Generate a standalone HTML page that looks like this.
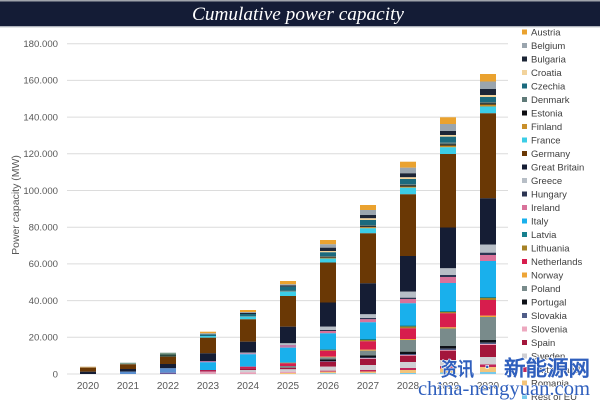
<!DOCTYPE html>
<html><head><meta charset="utf-8"><style>
html,body{margin:0;padding:0;background:#fff;}
svg{display:block;}
text{font-family:"Liberation Sans",sans-serif;}
</style></head><body>
<svg width="600" height="405" viewBox="0 0 600 405" xmlns="http://www.w3.org/2000/svg">
<rect x="0" y="0" width="600" height="405" fill="#fff"/>
<rect x="0" y="0" width="600" height="1.5" fill="#a0a4ac"/>
<rect x="0" y="1.5" width="600" height="24.8" fill="#141c36"/>
<rect x="0" y="26.3" width="600" height="1.2" fill="#c9ccd2"/>
<text x="298" y="20" text-anchor="middle" fill="#fff" style="font-family:'Liberation Serif',serif;font-style:italic;font-size:19px" textLength="212" lengthAdjust="spacingAndGlyphs">Cumulative power capacity</text>

<g stroke="#dcdcdc" stroke-width="1">
<line x1="67" y1="43.7" x2="508" y2="43.7"/>
<line x1="67" y1="80.4" x2="508" y2="80.4"/>
<line x1="67" y1="117.1" x2="508" y2="117.1"/>
<line x1="67" y1="153.8" x2="508" y2="153.8"/>
<line x1="67" y1="190.5" x2="508" y2="190.5"/>
<line x1="67" y1="227.2" x2="508" y2="227.2"/>
<line x1="67" y1="263.9" x2="508" y2="263.9"/>
<line x1="67" y1="300.6" x2="508" y2="300.6"/>
<line x1="67" y1="337.3" x2="508" y2="337.3"/>
<line x1="67" y1="374" x2="508" y2="374"/>
</g>
<g fill="#595959" style="font-size:9.6px" text-anchor="end">
<text x="58" y="47">180.000</text>
<text x="58" y="83.7">160.000</text>
<text x="58" y="120.4">140.000</text>
<text x="58" y="157.1">120.000</text>
<text x="58" y="193.8">100.000</text>
<text x="58" y="230.5">80.000</text>
<text x="58" y="267.2">60.000</text>
<text x="58" y="303.9">40.000</text>
<text x="58" y="340.6">20.000</text>
<text x="58" y="377.3">0</text>
</g>
<text transform="translate(19,205) rotate(-90)" text-anchor="middle" fill="#595959" style="font-size:10.5px">Power capacity (MW)</text>
<g fill="#595959" style="font-size:10px" text-anchor="middle">
<text x="88" y="389">2020</text>
<text x="128" y="389">2021</text>
<text x="168" y="389">2022</text>
<text x="208" y="389">2023</text>
<text x="248" y="389">2024</text>
<text x="288" y="389">2025</text>
<text x="328" y="389">2026</text>
<text x="368" y="389">2027</text>
<text x="408" y="389">2028</text>
<text x="448" y="389">2029</text>
<text x="488" y="389">2030</text>
</g>

<!-- 2020 -->
<g>
<rect x="80" y="366.7" width="16" height="1" fill="#c8a060"/>
<rect x="80" y="367.7" width="16" height="4" fill="#6a3805"/>
<rect x="80" y="371.7" width="16" height="2.3" fill="#151d34"/>
</g>
<!-- 2021 -->
<g>
<rect x="120" y="362.7" width="16" height="1.6" fill="#7fa090"/>
<rect x="120" y="364.3" width="16" height="4.7" fill="#6a3805"/>
<rect x="120" y="369" width="16" height="2.7" fill="#151d34"/>
<rect x="120" y="371.7" width="16" height="2.3" fill="#5b8fd0"/>
</g>
<!-- 2022 -->
<g>
<rect x="160" y="352.7" width="16" height="1.8" fill="#7a9a88"/>
<rect x="160" y="354.5" width="16" height="2.2" fill="#2a4a40"/>
<rect x="160" y="356.7" width="16" height="7.3" fill="#6a3805"/>
<rect x="160" y="364" width="16" height="4.3" fill="#151d34"/>
<rect x="160" y="368.3" width="16" height="4.4" fill="#5b8fd0"/>
<rect x="160" y="372.7" width="16" height="1.3" fill="#6a5a9a"/>
</g>
<!-- 2023 -->
<g>
<rect x="200" y="331.7" width="16" height="1.6" fill="#eaa22f"/>
<rect x="200" y="333.3" width="16" height="1" fill="#9aa5ae"/>
<rect x="200" y="334.3" width="16" height="1.7" fill="#1b6a7e"/>
<rect x="200" y="336" width="16" height="1.7" fill="#3ccde6"/>
<rect x="200" y="337.7" width="16" height="15.6" fill="#6a3805"/>
<rect x="200" y="353.3" width="16" height="7.7" fill="#151d34"/>
<rect x="200" y="361" width="16" height="1.3" fill="#b07aa8"/>
<rect x="200" y="362.3" width="16" height="7.7" fill="#19b0ec"/>
<rect x="200" y="370" width="16" height="1.7" fill="#b02050"/>
<rect x="200" y="371.7" width="16" height="2.3" fill="#e0a0b8"/>
</g>
<!-- 2024 -->
<g>
<rect x="240" y="310" width="16" height="2" fill="#eaa22f"/>
<rect x="240" y="312" width="16" height="1" fill="#9aa5ae"/>
<rect x="240" y="313" width="16" height="1" fill="#1c2536"/>
<rect x="240" y="314" width="16" height="2" fill="#1b6a7e"/>
<rect x="240" y="316" width="16" height="0.7" fill="#5f7a78"/>
<rect x="240" y="316.7" width="16" height="2.6" fill="#3ccde6"/>
<rect x="240" y="319.3" width="16" height="22.4" fill="#6a3805"/>
<rect x="240" y="341.7" width="16" height="10.8" fill="#151d34"/>
<rect x="240" y="352.5" width="16" height="0.8" fill="#b7bec6"/>
<rect x="240" y="353.3" width="16" height="1" fill="#b07aa8"/>
<rect x="240" y="354.3" width="16" height="12.4" fill="#19b0ec"/>
<rect x="240" y="366.7" width="16" height="1.6" fill="#d71d4d"/>
<rect x="240" y="368.3" width="16" height="1.7" fill="#a3163b"/>
<rect x="240" y="370" width="16" height="2.3" fill="#cfcfd3"/>
<rect x="240" y="372.3" width="16" height="1.7" fill="#e8a0b8"/>
</g>
<!-- 2025 -->
<g>
<rect x="280" y="281" width="16" height="3.3" fill="#eaa22f"/>
<rect x="280" y="284.3" width="16" height="1.2" fill="#9aa5ae"/>
<rect x="280" y="285.5" width="16" height="1.2" fill="#1c2536"/>
<rect x="280" y="286.7" width="16" height="3.8" fill="#1b6a7e"/>
<rect x="280" y="290.5" width="16" height="1.2" fill="#5f7a78"/>
<rect x="280" y="291.7" width="16" height="4.3" fill="#3ccde6"/>
<rect x="280" y="296" width="16" height="30.7" fill="#6a3805"/>
<rect x="280" y="326.7" width="16" height="16.6" fill="#151d34"/>
<rect x="280" y="343.3" width="16" height="1.7" fill="#b7bec6"/>
<rect x="280" y="345" width="16" height="2.7" fill="#c07aa8"/>
<rect x="280" y="347.7" width="16" height="15" fill="#19b0ec"/>
<rect x="280" y="362.7" width="16" height="0.6" fill="#a68226"/>
<rect x="280" y="363.3" width="16" height="2.7" fill="#d71d4d"/>
<rect x="280" y="366" width="16" height="1.7" fill="#798b8b"/>
<rect x="280" y="367.7" width="16" height="1.6" fill="#a3163b"/>
<rect x="280" y="369.3" width="16" height="2.4" fill="#cfcfd3"/>
<rect x="280" y="371.7" width="16" height="1.3" fill="#e8a0b8"/>
<rect x="280" y="373" width="16" height="1" fill="#f3c47a"/>
</g>
<!-- 2026 -->
<g>
<rect x="320" y="240" width="16" height="4.3" fill="#eaa22f"/>
<rect x="320" y="244.3" width="16" height="3.4" fill="#9aa5ae"/>
<rect x="320" y="247.7" width="16" height="3.3" fill="#1c2536"/>
<rect x="320" y="251" width="16" height="1.3" fill="#f2d39c"/>
<rect x="320" y="252.3" width="16" height="3.7" fill="#1b6a7e"/>
<rect x="320" y="256" width="16" height="1" fill="#5f7a78"/>
<rect x="320" y="257" width="16" height="0.7" fill="#0d0d12"/>
<rect x="320" y="257.7" width="16" height="0.8" fill="#c98f2a"/>
<rect x="320" y="258.5" width="16" height="4" fill="#3ccde6"/>
<rect x="320" y="262.5" width="16" height="40" fill="#6a3805"/>
<rect x="320" y="302.5" width="16" height="24.2" fill="#151d34"/>
<rect x="320" y="326.7" width="16" height="3.3" fill="#b7bec6"/>
<rect x="320" y="330" width="16" height="1" fill="#2c3552"/>
<rect x="320" y="331" width="16" height="2.3" fill="#d9729a"/>
<rect x="320" y="333.3" width="16" height="16" fill="#19b0ec"/>
<rect x="320" y="349.3" width="16" height="0.7" fill="#17808e"/>
<rect x="320" y="350" width="16" height="0.8" fill="#a68226"/>
<rect x="320" y="350.8" width="16" height="5.9" fill="#d71d4d"/>
<rect x="320" y="356.7" width="16" height="0.6" fill="#eea537"/>
<rect x="320" y="357.3" width="16" height="2.2" fill="#798b8b"/>
<rect x="320" y="359.5" width="16" height="1.5" fill="#0e1117"/>
<rect x="320" y="361" width="16" height="0.7" fill="#505d88"/>
<rect x="320" y="361.7" width="16" height="5" fill="#a3163b"/>
<rect x="320" y="366.7" width="16" height="4" fill="#cfcfd3"/>
<rect x="320" y="370.7" width="16" height="1" fill="#c2255a"/>
<rect x="320" y="371.7" width="16" height="1.6" fill="#f3c47a"/>
<rect x="320" y="373.3" width="16" height="0.7" fill="#77c9ea"/>
</g>
<!-- 2027 -->
<g>
<rect x="360" y="205" width="16" height="5" fill="#eaa22f"/>
<rect x="360" y="210" width="16" height="5" fill="#9aa5ae"/>
<rect x="360" y="215" width="16" height="3.3" fill="#1c2536"/>
<rect x="360" y="218.3" width="16" height="1.7" fill="#f2d39c"/>
<rect x="360" y="220" width="16" height="5" fill="#1b6a7e"/>
<rect x="360" y="225" width="16" height="1.2" fill="#5f7a78"/>
<rect x="360" y="226.2" width="16" height="1" fill="#0d0d12"/>
<rect x="360" y="227.2" width="16" height="1.1" fill="#c98f2a"/>
<rect x="360" y="228.3" width="16" height="5" fill="#3ccde6"/>
<rect x="360" y="233.3" width="16" height="50" fill="#6a3805"/>
<rect x="360" y="283.3" width="16" height="31" fill="#151d34"/>
<rect x="360" y="314.3" width="16" height="3.7" fill="#b7bec6"/>
<rect x="360" y="318" width="16" height="1.3" fill="#2c3552"/>
<rect x="360" y="319.3" width="16" height="3" fill="#d9729a"/>
<rect x="360" y="322.3" width="16" height="16.7" fill="#19b0ec"/>
<rect x="360" y="339" width="16" height="1" fill="#17808e"/>
<rect x="360" y="340" width="16" height="1.3" fill="#a68226"/>
<rect x="360" y="341.3" width="16" height="8.4" fill="#d71d4d"/>
<rect x="360" y="349.7" width="16" height="1" fill="#eea537"/>
<rect x="360" y="350.7" width="16" height="4.8" fill="#798b8b"/>
<rect x="360" y="355.5" width="16" height="2" fill="#0e1117"/>
<rect x="360" y="357.5" width="16" height="0.8" fill="#505d88"/>
<rect x="360" y="358.3" width="16" height="0.7" fill="#eda8bf"/>
<rect x="360" y="359" width="16" height="6" fill="#a3163b"/>
<rect x="360" y="365" width="16" height="5" fill="#cfcfd3"/>
<rect x="360" y="370" width="16" height="1.5" fill="#c2255a"/>
<rect x="360" y="371.5" width="16" height="1.8" fill="#f3c47a"/>
<rect x="360" y="373.3" width="16" height="0.7" fill="#77c9ea"/>
</g>
<!-- 2028 -->
<g>
<rect x="400" y="161.7" width="16" height="6" fill="#eaa22f"/>
<rect x="400" y="167.7" width="16" height="5.6" fill="#9aa5ae"/>
<rect x="400" y="173.3" width="16" height="4" fill="#1c2536"/>
<rect x="400" y="177.3" width="16" height="1.7" fill="#f2d39c"/>
<rect x="400" y="179" width="16" height="5.3" fill="#1b6a7e"/>
<rect x="400" y="184.3" width="16" height="1.2" fill="#5f7a78"/>
<rect x="400" y="185.5" width="16" height="1" fill="#0d0d12"/>
<rect x="400" y="186.5" width="16" height="1.2" fill="#c98f2a"/>
<rect x="400" y="187.7" width="16" height="6.6" fill="#3ccde6"/>
<rect x="400" y="194.3" width="16" height="61.7" fill="#6a3805"/>
<rect x="400" y="256" width="16" height="35.7" fill="#151d34"/>
<rect x="400" y="291.7" width="16" height="6" fill="#b7bec6"/>
<rect x="400" y="297.7" width="16" height="1.3" fill="#2c3552"/>
<rect x="400" y="299" width="16" height="4.3" fill="#d9729a"/>
<rect x="400" y="303.3" width="16" height="22.2" fill="#19b0ec"/>
<rect x="400" y="325.5" width="16" height="1" fill="#17808e"/>
<rect x="400" y="326.5" width="16" height="1.8" fill="#a68226"/>
<rect x="400" y="328.3" width="16" height="10.7" fill="#d71d4d"/>
<rect x="400" y="339" width="16" height="1" fill="#eea537"/>
<rect x="400" y="340" width="16" height="11.7" fill="#798b8b"/>
<rect x="400" y="351.7" width="16" height="2.3" fill="#0e1117"/>
<rect x="400" y="354" width="16" height="1" fill="#505d88"/>
<rect x="400" y="355" width="16" height="0.7" fill="#eda8bf"/>
<rect x="400" y="355.7" width="16" height="6.3" fill="#a3163b"/>
<rect x="400" y="362" width="16" height="6" fill="#cfcfd3"/>
<rect x="400" y="368" width="16" height="2" fill="#c2255a"/>
<rect x="400" y="370" width="16" height="3" fill="#f3c47a"/>
<rect x="400" y="373" width="16" height="1" fill="#77c9ea"/>
</g>
<!-- 2029 -->
<g>
<rect x="440" y="117.3" width="16" height="6.7" fill="#eaa22f"/>
<rect x="440" y="124" width="16" height="7" fill="#9aa5ae"/>
<rect x="440" y="131" width="16" height="4" fill="#1c2536"/>
<rect x="440" y="135" width="16" height="1.7" fill="#f2d39c"/>
<rect x="440" y="136.7" width="16" height="6" fill="#1b6a7e"/>
<rect x="440" y="142.7" width="16" height="1.8" fill="#5f7a78"/>
<rect x="440" y="144.5" width="16" height="1" fill="#0d0d12"/>
<rect x="440" y="145.5" width="16" height="1.8" fill="#c98f2a"/>
<rect x="440" y="147.3" width="16" height="6.7" fill="#3ccde6"/>
<rect x="440" y="154" width="16" height="73.5" fill="#6a3805"/>
<rect x="440" y="227.5" width="16" height="40.8" fill="#151d34"/>
<rect x="440" y="268.3" width="16" height="6.7" fill="#b7bec6"/>
<rect x="440" y="275" width="16" height="2" fill="#2c3552"/>
<rect x="440" y="277" width="16" height="6" fill="#d9729a"/>
<rect x="440" y="283" width="16" height="28" fill="#19b0ec"/>
<rect x="440" y="311" width="16" height="1" fill="#17808e"/>
<rect x="440" y="312" width="16" height="1.3" fill="#a68226"/>
<rect x="440" y="313.3" width="16" height="14" fill="#d71d4d"/>
<rect x="440" y="327.3" width="16" height="1.2" fill="#eea537"/>
<rect x="440" y="328.5" width="16" height="17.5" fill="#798b8b"/>
<rect x="440" y="346" width="16" height="2.7" fill="#0e1117"/>
<rect x="440" y="348.7" width="16" height="1.3" fill="#505d88"/>
<rect x="440" y="350" width="16" height="0.7" fill="#eda8bf"/>
<rect x="440" y="350.7" width="16" height="9.3" fill="#a3163b"/>
<rect x="440" y="360" width="16" height="6" fill="#cfcfd3"/>
<rect x="440" y="366" width="16" height="2.5" fill="#c2255a"/>
<rect x="440" y="368.5" width="16" height="4" fill="#f3c47a"/>
<rect x="440" y="372.5" width="16" height="1.5" fill="#77c9ea"/>
</g>
<!-- 2030 -->
<g>
<rect x="480" y="74" width="16" height="7.5" fill="#eaa22f"/>
<rect x="480" y="81.5" width="16" height="7.5" fill="#9aa5ae"/>
<rect x="480" y="89" width="16" height="6" fill="#1c2536"/>
<rect x="480" y="95" width="16" height="2" fill="#f2d39c"/>
<rect x="480" y="97" width="16" height="5" fill="#1b6a7e"/>
<rect x="480" y="102" width="16" height="1.5" fill="#5f7a78"/>
<rect x="480" y="103.5" width="16" height="1" fill="#0d0d12"/>
<rect x="480" y="104.5" width="16" height="2" fill="#c98f2a"/>
<rect x="480" y="106.5" width="16" height="6.8" fill="#3ccde6"/>
<rect x="480" y="113.3" width="16" height="85" fill="#6a3805"/>
<rect x="480" y="198.3" width="16" height="46.2" fill="#151d34"/>
<rect x="480" y="244.5" width="16" height="8.2" fill="#b7bec6"/>
<rect x="480" y="252.7" width="16" height="2.3" fill="#2c3552"/>
<rect x="480" y="255" width="16" height="6" fill="#d9729a"/>
<rect x="480" y="261" width="16" height="36" fill="#19b0ec"/>
<rect x="480" y="297" width="16" height="1" fill="#17808e"/>
<rect x="480" y="298" width="16" height="2" fill="#a68226"/>
<rect x="480" y="300" width="16" height="15.7" fill="#d71d4d"/>
<rect x="480" y="315.7" width="16" height="1.3" fill="#eea537"/>
<rect x="480" y="317" width="16" height="23" fill="#798b8b"/>
<rect x="480" y="340" width="16" height="2.7" fill="#0e1117"/>
<rect x="480" y="342.7" width="16" height="1.3" fill="#505d88"/>
<rect x="480" y="344" width="16" height="1" fill="#eda8bf"/>
<rect x="480" y="345" width="16" height="12" fill="#a3163b"/>
<rect x="480" y="357" width="16" height="7.5" fill="#cfcfd3"/>
<rect x="480" y="364.5" width="16" height="2.5" fill="#c2255a"/>
<rect x="480" y="367" width="16" height="5" fill="#f3c47a"/>
<rect x="480" y="372" width="16" height="2" fill="#77c9ea"/>
</g>

<!-- Legend -->
<g style="font-size:9.5px" fill="#404040">
<rect x="522" y="29.5" width="5" height="5" fill="#eaa22f"/><text x="531" y="35.3">Austria</text>
<rect x="522" y="43" width="5" height="5" fill="#9aa5ae"/><text x="531" y="48.8">Belgium</text>
<rect x="522" y="56.5" width="5" height="5" fill="#1c2536"/><text x="531" y="62.3">Bulgaria</text>
<rect x="522" y="70" width="5" height="5" fill="#f2d39c"/><text x="531" y="75.8">Croatia</text>
<rect x="522" y="83.5" width="5" height="5" fill="#1b6a7e"/><text x="531" y="89.3">Czechia</text>
<rect x="522" y="97" width="5" height="5" fill="#5f7a78"/><text x="531" y="102.8">Denmark</text>
<rect x="522" y="110.5" width="5" height="5" fill="#0d0d12"/><text x="531" y="116.3">Estonia</text>
<rect x="522" y="124" width="5" height="5" fill="#c98f2a"/><text x="531" y="129.8">Finland</text>
<rect x="522" y="137.5" width="5" height="5" fill="#3ccde6"/><text x="531" y="143.3">France</text>
<rect x="522" y="151" width="5" height="5" fill="#6a3805"/><text x="531" y="156.8">Germany</text>
<rect x="522" y="164.5" width="5" height="5" fill="#151d34"/><text x="531" y="170.3">Great Britain</text>
<rect x="522" y="178" width="5" height="5" fill="#b7bec6"/><text x="531" y="183.8">Greece</text>
<rect x="522" y="191.5" width="5" height="5" fill="#2c3552"/><text x="531" y="197.3">Hungary</text>
<rect x="522" y="205" width="5" height="5" fill="#d9729a"/><text x="531" y="210.8">Ireland</text>
<rect x="522" y="218.5" width="5" height="5" fill="#19b0ec"/><text x="531" y="224.3">Italy</text>
<rect x="522" y="232" width="5" height="5" fill="#17808e"/><text x="531" y="237.8">Latvia</text>
<rect x="522" y="245.5" width="5" height="5" fill="#a68226"/><text x="531" y="251.3">Lithuania</text>
<rect x="522" y="259" width="5" height="5" fill="#d71d4d"/><text x="531" y="264.8">Netherlands</text>
<rect x="522" y="272.5" width="5" height="5" fill="#eea537"/><text x="531" y="278.3">Norway</text>
<rect x="522" y="286" width="5" height="5" fill="#798b8b"/><text x="531" y="291.8">Poland</text>
<rect x="522" y="299.5" width="5" height="5" fill="#0e1117"/><text x="531" y="305.3">Portugal</text>
<rect x="522" y="313" width="5" height="5" fill="#505d88"/><text x="531" y="318.8">Slovakia</text>
<rect x="522" y="326.5" width="5" height="5" fill="#eda8bf"/><text x="531" y="332.3">Slovenia</text>
<rect x="522" y="340" width="5" height="5" fill="#a3163b"/><text x="531" y="345.8">Spain</text>
<rect x="522" y="353.5" width="5" height="5" fill="#cfcfd3"/><text x="531" y="359.3">Sweden</text>
<rect x="522" y="367" width="5" height="5" fill="#c2255a"/><text x="531" y="372.8">Switzerland</text>
<rect x="522" y="380.5" width="5" height="5" fill="#f3c47a"/><text x="531" y="386.3">Romania</text>
<rect x="522" y="394" width="5" height="5" fill="#77c9ea"/><text x="531" y="399.8">Rest of EU</text>
</g>

<!-- Watermark -->
<g fill="#2f5fbd" stroke="#ffffff" stroke-width="1.2" paint-order="stroke" style="font-family:'Liberation Serif','Noto Serif CJK SC',serif;font-weight:bold">
<text x="441" y="375.5" style="font-size:19px" textLength="33" lengthAdjust="spacingAndGlyphs">资讯</text>
<text x="485" y="372" style="font-size:16px">·</text>
<text x="504" y="375.5" style="font-size:21px" textLength="86" lengthAdjust="spacingAndGlyphs">新能源网</text>
</g>
<text x="418" y="395" fill="#2f5fbd" stroke="#ffffff" stroke-width="1" paint-order="stroke" style="font-family:'Liberation Serif',serif;font-size:20px" textLength="172" lengthAdjust="spacingAndGlyphs">china-nengyuan.com</text>
</svg>
</body></html>
